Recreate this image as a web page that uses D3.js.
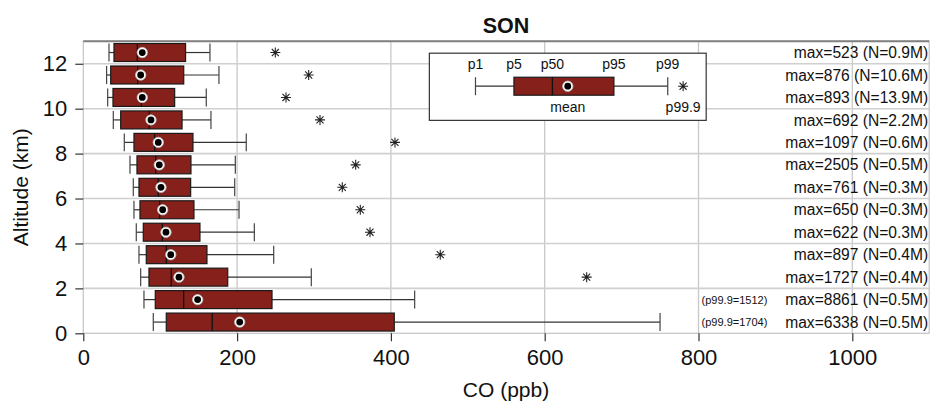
<!DOCTYPE html>
<html><head><meta charset="utf-8">
<script src="https://cdn.jsdelivr.net/npm/d3@7"></script>
<style>body{margin:0;background:#fff} svg{font-family:"Liberation Sans",Arial,Helvetica,sans-serif}</style>
</head><body><svg id="c" width="930" height="403"></svg>
<script>
// altitude bins (km), bottom to top
const altitudes = [0.5,1.5,2.5,3.5,4.5,5.5,6.5,7.5,8.5,9.5,10.5,11.5,12.5];
const p1   = [91, 78.9, 74.6, 72.4, 68.9, 65.9, 65, 60.7, 53.3, 39, 31.7, 30.3, 33.4];
const p5   = [107.9, 93.6, 85.4, 81.9, 78, 73.7, 72.4, 69.8, 65.9, 48.6, 38.6, 35.6, 39.9];
const p50  = [167.7, 130.5, 114.4, 107.9, 102.7, 99.3, 97.5, 94.1, 92.8, 85.8, 75.5, 70.7, 70.2];
const meanV= [203.4, 148.7, 124.4, 113.7, 107.5, 103.2, 101, 98.8, 97.5, 88, 76.7, 74.6, 76.7];
const p95  = [404.4, 245.4, 187.8, 160.8, 151.7, 143.9, 139.6, 140, 142.6, 128.4, 118.8, 130.6, 133];
const p99  = [750, 430.9, 296.5, 247.6, 222.4, 202.5, 196.9, 197.7, 211.9, 166, 159.9, 176.4, 164.7];
const p999 = [1704, 1512, 654.6, 464.2, 372.8, 360.2, 336.8, 354.2, 405.3, 307.8, 263.6, 293.1, 249.7];
const maxV = [6338, 8861, 1727, 897, 622, 650, 761, 2505, 1097, 692, 893, 876, 523];
const nObs = ["0.5M","0.5M","0.4M","0.4M","0.3M","0.3M","0.3M","0.5M","0.6M","2.2M","13.9M","10.6M","0.9M"];
const xTicks = [0,200,400,600,800,1000];
const yTicks = [0,2,4,6,8,10,12];
// legend example box
const legendVals = {p1:510, p5:560, p50:610, mean:630, p95:690, p99:760, p999:780};
const legendLabels = ["p1","p5","p50","p95","p99"];

const svg = d3.select("#c");
const x = d3.scaleLinear().domain([0,1100]).range([83.3,929.2]);
const y = d3.scaleLinear().domain([0,13]).range([333.3,41.3]);
const boxH = y(0) - y(0.8);
const fill = "#85201a";
const rows = altitudes.map((a,i)=>({a,p1:p1[i],p5:p5[i],p50:p50[i],mean:meanV[i],p95:p95[i],p99:p99[i],p999:p999[i],max:maxV[i],n:nObs[i]}));

// grid
const g = svg.append("g");
g.selectAll(".vg").data(xTicks.filter(d=>d>0)).join("line")
  .attr("x1",d=>x(d)).attr("x2",d=>x(d)).attr("y1",y(13)).attr("y2",y(0))
  .attr("stroke","#c8c8c8").attr("stroke-width",1.3);
g.selectAll(".hg").data(yTicks.filter(d=>d>0)).join("line")
  .attr("x1",x(0)).attr("x2",x(1100)).attr("y1",d=>y(d)).attr("y2",d=>y(d))
  .attr("stroke","#d0d0d0").attr("stroke-width",1.6);
// frame
g.append("rect").attr("x",x(0)).attr("y",y(13)).attr("width",x(1100)-x(0)).attr("height",y(0)-y(13))
  .attr("fill","none").attr("stroke","#c8c8c8").attr("stroke-width",1.3);
g.append("line").attr("x1",x(0)).attr("x2",x(1100)).attr("y1",y(13)).attr("y2",y(13))
  .attr("stroke","#808080").attr("stroke-width",2);

// axes
const xa = svg.append("g").attr("transform",`translate(0,${y(0)})`)
  .call(d3.axisBottom(x).tickValues(xTicks).tickSize(8).tickPadding(8).tickFormat(d3.format("d")));
const ya = svg.append("g").attr("transform",`translate(${x(0)},0)`)
  .call(d3.axisLeft(y).tickValues(yTicks).tickSize(8).tickPadding(8).tickFormat(d3.format("d")));
[xa,ya].forEach(a=>{
  a.select(".domain").remove();
  a.selectAll("line").attr("stroke","#333").attr("stroke-width",1.2);
  a.selectAll("text").attr("font-size",22).attr("fill","#111").attr("font-family","Liberation Sans, Arial, sans-serif");
});

function star(sel, cx, cy, r){
  const p = d3.path();
  for (let k=0;k<4;k++){
    const ang = k*Math.PI/4;
    p.moveTo(cx - r*Math.cos(ang), cy - r*Math.sin(ang));
    p.lineTo(cx + r*Math.cos(ang), cy + r*Math.sin(ang));
  }
  sel.append("path").attr("d",p.toString()).attr("stroke","#222").attr("stroke-width",1.1).attr("fill","none");
}

function drawBox(sel, d, cy){
  const h = boxH;
  sel.append("line").attr("x1",x(d.p1)).attr("x2",x(d.p5)).attr("y1",cy).attr("y2",cy).attr("stroke","#333").attr("stroke-width",1.2);
  sel.append("line").attr("x1",x(d.p95)).attr("x2",x(d.p99)).attr("y1",cy).attr("y2",cy).attr("stroke","#333").attr("stroke-width",1.2);
  sel.append("line").attr("x1",x(d.p1)).attr("x2",x(d.p1)).attr("y1",cy-h/2).attr("y2",cy+h/2).attr("stroke","#444").attr("stroke-width",1.2);
  sel.append("line").attr("x1",x(d.p99)).attr("x2",x(d.p99)).attr("y1",cy-h/2).attr("y2",cy+h/2).attr("stroke","#444").attr("stroke-width",1.2);
  sel.append("rect").attr("x",x(d.p5)).attr("y",cy-h/2).attr("width",x(d.p95)-x(d.p5)).attr("height",h)
    .attr("fill",fill).attr("stroke","#1a1a1a").attr("stroke-width",1.2);
  sel.append("line").attr("x1",x(d.p50)).attr("x2",x(d.p50)).attr("y1",cy-h/2).attr("y2",cy+h/2).attr("stroke","#111").attr("stroke-width",1.3);
  sel.append("circle").attr("cx",x(d.mean)).attr("cy",cy).attr("r",5.2).attr("fill","#fff").attr("stroke","#bbb").attr("stroke-width",0.8);
  sel.append("circle").attr("cx",x(d.mean)).attr("cy",cy).attr("r",3.4).attr("fill","#000");
  if (d.p999 <= 1100) star(sel, x(d.p999), cy, 5);
}

const bg = svg.append("g");
rows.forEach(d=>{
  const cy = y(d.a);
  drawBox(bg, d, cy);
  bg.append("text").attr("x",x(1100)-1).attr("y",cy).attr("dy","0.36em").attr("text-anchor","end")
    .attr("font-size",15.6).attr("fill","#111").text(`max=${d.max} (N=${d.n})`);
  if (d.p999 > 1100) {
    bg.append("text").attr("x",x(804)).attr("y",cy).attr("dy","0.36em")
      .attr("font-size",11).attr("fill","#111").text(`(p99.9=${d.p999})`);
  }
});

// legend
const lg = svg.append("g");
lg.append("rect").attr("x",x(450)).attr("y",y(12.47)).attr("width",x(810)-x(450)).attr("height",y(9.48)-y(12.47))
  .attr("fill","#fff").attr("stroke","#333").attr("stroke-width",1.2);
const ld = {p1:legendVals.p1,p5:legendVals.p5,p50:legendVals.p50,mean:legendVals.mean,p95:legendVals.p95,p99:legendVals.p99,p999:legendVals.p999};
drawBox(lg, ld, y(11));
legendLabels.forEach(k=>{
  lg.append("text").attr("x",x(legendVals[k])).attr("y",y(11.76)).attr("text-anchor","middle")
    .attr("font-size",14).attr("fill","#111").text(k);
});
lg.append("text").attr("x",x(legendVals.mean)).attr("y",y(9.84)).attr("text-anchor","middle")
  .attr("font-size",14).attr("fill","#111").text("mean");
lg.append("text").attr("x",x(legendVals.p999)).attr("y",y(9.84)).attr("text-anchor","middle")
  .attr("font-size",14).attr("fill","#111").text("p99.9");

// titles
svg.append("text").attr("x",506).attr("y",32.7).attr("text-anchor","middle").attr("font-size",21.5)
  .attr("font-weight","bold").attr("fill","#111").text("SON");
svg.append("text").attr("x",506).attr("y",396.5).attr("text-anchor","middle").attr("font-size",21)
  .attr("fill","#111").text("CO (ppb)");
svg.append("text").attr("transform",`translate(28.3,${(y(0)+y(13))/2}) rotate(-90)`).attr("text-anchor","middle")
  .attr("font-size",21).attr("fill","#111").text("Altitude (km)");
</script></body></html>
